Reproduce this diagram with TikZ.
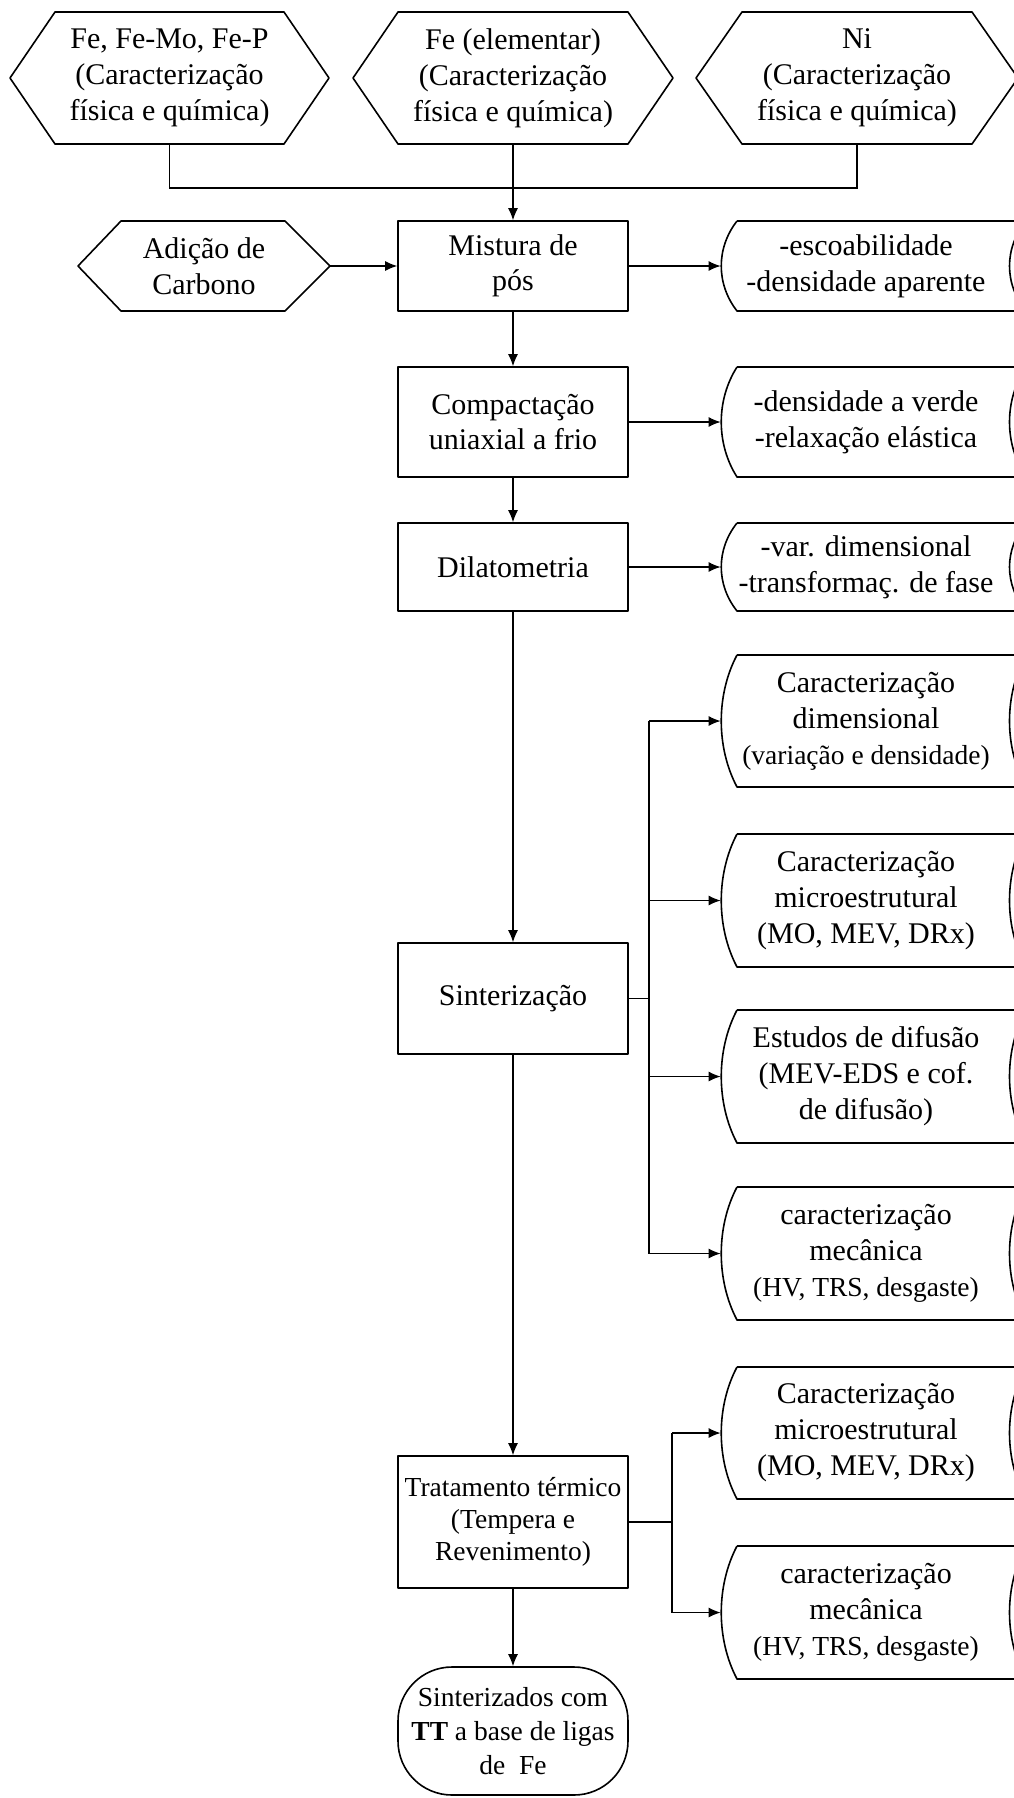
\documentclass[tikz,border=0pt]{standalone}
\usepackage{fontspec}
\setmainfont{Liberation Serif}
\usetikzlibrary{arrows.meta}
\tikzset{
  lbl/.style={align=center, inner sep=0pt, font=\fontsize{15}{17.5}\selectfont},
  lbl3/.style={align=center, inner sep=0pt, font=\fontsize{15}{18}\selectfont},
  boxline/.style={line width=0.8pt, line join=round},
  conn/.style={line width=0.6pt},
  arr/.style={conn, -{Latex[length=6pt,width=5pt]}},
  proc/.style={draw, boxline, lbl, minimum width=115pt},
}
% hexagon: name, x left point, x top-left, x top-right, x right point, top, bottom, text
\newcommand\hexnode[8]{%
  \draw[boxline] (#2,{(#6+#7)/2}) -- (#3,#6) -- (#4,#6) -- (#5,{(#6+#7)/2}) -- (#4,#7) -- (#3,#7) -- cycle;
  \node[lbl3, minimum width={(#5-#2)*0.5pt}, minimum height={(#7-#6)*0.5pt}] (#1) at ({(#2+#5)/2},{(#6+#7)/2}) {#8};
}
% stored-data box: name, top, bottom, text
\newcommand\stnode[4]{%
  \draw[boxline] (737,#2) -- (1026,#2)
    .. controls (1004,{#2+0.3*(#3-#2)}) and (1004,{#3-0.3*(#3-#2)}) .. (1026,#3)
    -- (737,#3)
    .. controls (716,{#3-0.3*(#3-#2)}) and (716,{#2+0.3*(#3-#2)}) .. (737,#2);
  \node[lbl3, minimum width=145pt, minimum height={(#3-#2)*0.5pt}] (#1) at (866,{(#2+#3)/2}) {#4};
}
\newcommand\smallline[1]{{\fontsize{13.75}{18}\selectfont #1}}
\begin{document}
\begin{tikzpicture}[x=0.5pt,y=-0.5pt]
\useasboundingbox (0,0) rectangle (1013,1798);

% top raw materials
\hexnode{hexA}{10}{55}{284}{329}{12}{144}{Fe, Fe-Mo, Fe-P\\(Caracterização\\física e química)}
\hexnode{hexB}{353}{398}{628}{673}{12}{144}{Fe (elementar)\\(Caracterização\\física e química)}
\hexnode{hexC}{696}{742}{972}{1018}{12}{144}{Ni\\(Caracterização\\física e química)}
\hexnode{adic}{78}{121}{285}{330}{221}{311}{Adição de\\Carbono}

% main process column
\node[proc, minimum height=45pt] (mist) at (513,266) {Mistura de\\pós};
\node[proc, minimum height=55pt] (comp) at (513,422) {Compactação\\uniaxial a frio};
\node[proc, minimum height=44pt] (dil) at (513,567) {Dilatometria};
\node[proc, minimum height=55.5pt] (sint) at (513,998.5) {Sinterização};
\node[proc, minimum height=66pt, font=\fontsize{13.75}{16}\selectfont] (trat) at (513,1522) {Tratamento térmico\\(Tempera e\\Revenimento)};
\node[draw, boxline, align=center, inner sep=0pt, rounded corners=27pt, minimum width=115pt, minimum height=64pt,
      font=\fontsize{13.75}{17}\selectfont] (fin) at (513,1731) {Sinterizados com\\\textbf{TT} a base de ligas\\de\ \ Fe};

% characterisation column
\stnode{st1}{221}{311}{-escoabilidade\\-densidade aparente}
\stnode{st2}{367}{477}{-densidade a verde\\-relaxação elástica}
\stnode{st3}{523}{611}{-var. dimensional\\-transformaç. de fase}
\stnode{st4}{655}{787}{Caracterização\\dimensional\\\smallline{(variação e densidade)}}
\stnode{st5}{834}{967}{Caracterização\\microestrutural\\(MO, MEV, DRx)}
\stnode{st6}{1010}{1143}{Estudos de difusão\\(MEV-EDS e cof.\\de difusão)}
\stnode{st7}{1187}{1320}{caracterização\\mecânica\\\smallline{(HV, TRS, desgaste)}}
\stnode{st8}{1367}{1499}{Caracterização\\microestrutural\\(MO, MEV, DRx)}
\stnode{st9}{1546}{1679}{caracterização\\mecânica\\\smallline{(HV, TRS, desgaste)}}

% connectors at top
\coordinate (jn) at (513,188);
\draw[conn] (hexA.south) |- (jn) -| (hexC.south);
\draw[arr] (hexB.south) -- (mist.north);
\draw[arr] (adic.east) -- (mist.west);
\draw[arr] (mist.east) -- (st1.west);

% main flow
\draw[arr] (mist.south) -- (comp.north);
\draw[arr] (comp.east) -- (st2.west);
\draw[arr] (comp.south) -- (dil.north);
\draw[arr] (dil.east) -- (st3.west);
\draw[arr] (dil.south) -- (sint.north);
\draw[arr] (sint.south) -- (trat.north);
\draw[arr] (trat.south) -- (fin.north);

% sintering outputs
\coordinate (busS) at (649,998.5);
\draw[conn] (sint.east) -- (busS);
\draw[conn] (busS |- st4.west) -- (busS |- st7.west);
\draw[arr] (busS |- st4.west) -- (st4.west);
\draw[arr] (busS |- st5.west) -- (st5.west);
\draw[arr] (busS |- st6.west) -- (st6.west);
\draw[arr] (busS |- st7.west) -- (st7.west);

% heat treatment outputs
\coordinate (busT) at (672,1522);
\draw[conn] (trat.east) -- (busT);
\draw[conn] (busT |- st8.west) -- (busT |- st9.west);
\draw[arr] (busT |- st8.west) -- (st8.west);
\draw[arr] (busT |- st9.west) -- (st9.west);
\end{tikzpicture}
\end{document}
